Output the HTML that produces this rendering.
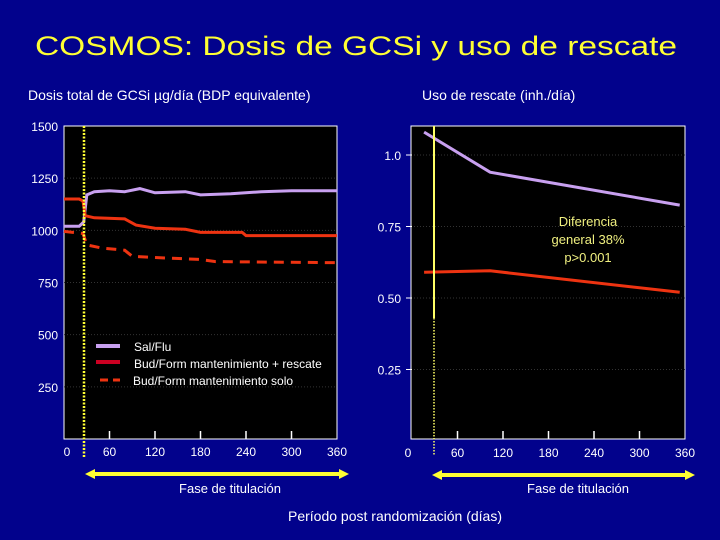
<!DOCTYPE html>
<html><head><meta charset="utf-8"><style>
body{margin:0;background:#02028c;}
svg{display:block;font-family:"Liberation Sans",Arial,sans-serif;}
</style></head><body>
<svg id="s" width="720" height="540" xmlns="http://www.w3.org/2000/svg">
<rect width="720" height="540" fill="#02028c"/>
<text x="356" y="55" text-anchor="middle" font-size="27" fill="#ffff33" textLength="642" lengthAdjust="spacingAndGlyphs">COSMOS: Dosis de GCSi y uso de rescate</text>
<text x="28" y="100" font-size="14" fill="#fff">Dosis total de GCSi µg/día (BDP equivalente)</text>
<text x="422" y="100" font-size="14" fill="#fff">Uso de rescate (inh./día)</text>
<rect x="64" y="126" width="273" height="313" fill="#000" stroke="#fff" stroke-width="1"/>
<rect x="411" y="126" width="274" height="313" fill="#000" stroke="#fff" stroke-width="1"/>
<g id="L"></g><g id="R"></g>
<g>
<line x1="96" y1="346" x2="120" y2="346" stroke="#c8a0f0" stroke-width="4"/>
<text x="134" y="351" font-size="12" fill="#fff">Sal/Flu</text>
<line x1="96" y1="362" x2="120" y2="362" stroke="#cc0022" stroke-width="4"/>
<text x="134" y="368" font-size="12" fill="#fff">Bud/Form mantenimiento + rescate</text>
<line x1="100" y1="380" x2="120" y2="380" stroke="#ee3311" stroke-width="3" stroke-dasharray="8,5"/>
<text x="133" y="385" font-size="12" fill="#fff">Bud/Form mantenimiento solo</text>
</g>
<text x="588" y="226" font-size="13" fill="#f0f080" text-anchor="middle"><tspan x="588">Diferencia</tspan><tspan x="588" dy="18">general 38%</tspan><tspan x="588" dy="18">p&gt;0.001</tspan></text>
<g>
<line x1="92" y1="474" x2="342" y2="474" stroke="#ffff33" stroke-width="4"/>
<polygon points="85,474 95,469 95,479" fill="#ffff33"/><polygon points="349,474 339,469 339,479" fill="#ffff33"/>
</g>
<g>
<line x1="439" y1="475" x2="688" y2="475" stroke="#ffff33" stroke-width="4"/>
<polygon points="432,475 442,470 442,480" fill="#ffff33"/><polygon points="695,475 685,470 685,480" fill="#ffff33"/>
</g>
<text x="230" y="493" font-size="13" fill="#fff" text-anchor="middle">Fase de titulación</text>
<text x="578" y="493" font-size="13" fill="#fff" text-anchor="middle">Fase de titulación</text>
<text x="395" y="521" font-size="14" fill="#fff" text-anchor="middle">Período post randomización (días)</text>
</svg>
<script>
const xTicks=[0,60,120,180,240,300,360];
const leftYTicks=[250,500,750,1000,1250,1500];
const rightYTicks=[0.25,0.5,0.75,1.0];
const rightYLabels=["0.25","0.50","0.75","1.0"];
const salfluDays=[0,20,26,30,40,60,80,100,120,160,180,220,260,300,360];
const salfluDose=[1020,1020,1040,1170,1185,1190,1185,1200,1180,1185,1170,1175,1185,1190,1190];
const budRescDays=[0,20,25,28,40,80,95,120,160,180,235,240,300,360];
const budRescDose=[1150,1150,1140,1070,1060,1055,1025,1010,1005,990,990,975,975,975];
const budSoloDays=[0,25,30,50,80,90,120,180,200,360];
const budSoloDose=[995,985,930,915,905,875,870,860,850,845];
const rescueDays=[16,103,353];
const salfluRescue=[1.08,0.94,0.825];
const budRescue=[0.59,0.595,0.52];
const NS="http://www.w3.org/2000/svg";
function mk(p,t,a){const e=document.createElementNS(NS,t);for(const k in a)e.setAttribute(k,a[k]);p.appendChild(e);return e;}
const lx=d=>64+d*273/360, ly=v=>439-v*313/1500;
const rx=d=>412+d*273/360, ry=v=>441-v*286;
const L=document.getElementById('L'),R=document.getElementById('R');
leftYTicks.forEach(v=>{
 if(v<1500){const g=mk(L,'line',{x1:64,x2:337,y1:ly(v),y2:ly(v),stroke:'#333',"stroke-dasharray":'1,2'});
 
 }
 const t=mk(L,'text',{x:58,y:ly(v)+5,"text-anchor":'end',"font-size":12,fill:'#fff'});t.textContent=v;
 
 
});
xTicks.forEach(d=>{
 if(d>0&&d<360){const m=mk(L,'line',{x1:lx(d),x2:lx(d),y1:439,y2:431,stroke:'#fff',"stroke-width":1.5});
 
 
 const m2=mk(R,'line',{x1:rx(d),x2:rx(d),y1:439,y2:431,stroke:'#fff',"stroke-width":1.5});
 
 }
 const t=mk(L,'text',{x:lx(d)+(d==0?3:0),y:456,"text-anchor":'middle',"font-size":12,fill:'#fff'});t.textContent=d;
 
 
 const t2=mk(R,'text',{x:rx(d)+(d==0?-4:0),y:457,"text-anchor":'middle',"font-size":12,fill:'#fff'});t2.textContent=d;
 
 
});
rightYTicks.forEach((v,i)=>{
 const g=mk(R,'line',{x1:411,x2:685,y1:ry(v),y2:ry(v),stroke:'#333',"stroke-dasharray":'1,2'});
 
 
 const m=mk(R,'line',{x1:406,x2:412,y1:ry(v),y2:ry(v),stroke:'#fff'});
 
 
 const t=mk(R,'text',{x:401,y:ry(v)+5,"text-anchor":'end',"font-size":12,fill:'#fff'});t.textContent=rightYLabels[i];
 
 
});
function pts(ds,vs,fx,fy){return ds.map((d,i)=>fx(d).toFixed(1)+','+fy(vs[i]).toFixed(1)).join(' ');}
const a=mk(L,'polyline',{points:pts(salfluDays,salfluDose,lx,ly),fill:'none',stroke:'#c8a0f0',"stroke-width":3});


const b=mk(L,'polyline',{points:pts(budRescDays,budRescDose,lx,ly),fill:'none',stroke:'#ee3311',"stroke-width":3});


const c=mk(L,'polyline',{points:pts(budSoloDays,budSoloDose,lx,ly),fill:'none',stroke:'#ee3311',"stroke-width":3,"stroke-dasharray":'10,7'});


const d1=mk(R,'polyline',{points:pts(rescueDays,salfluRescue,rx,ry),fill:'none',stroke:'#c8a0f0',"stroke-width":3});


const d2=mk(R,'polyline',{points:pts(rescueDays,budRescue,rx,ry),fill:'none',stroke:'#ee3311',"stroke-width":3});


const v1=mk(L,'line',{x1:84,x2:84,y1:126,y2:458,stroke:'#ffff33',"stroke-width":2.5,"stroke-dasharray":'2,1.5'});


const v2=mk(R,'line',{x1:434,x2:434,y1:126,y2:318,stroke:'#ffff66',"stroke-width":2});


const v3=mk(R,'line',{x1:434,x2:434,y1:318,y2:455,stroke:'#ffff66',"stroke-width":1.5,"stroke-dasharray":'1.5,1.5'});


</script>
</body></html>
